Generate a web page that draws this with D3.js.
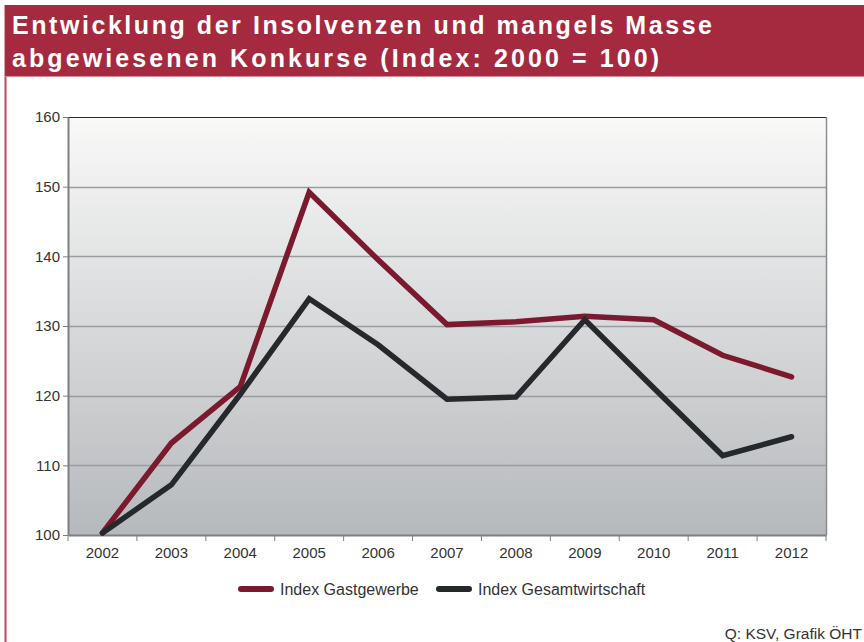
<html>
<head>
  <meta charset="utf-8">
  <title>Insolvenzen Index</title>
  <style>
    body {
      margin: 0;
      padding: 0;
      background: white;
      font-family: "Liberation Sans", Arial, sans-serif;
    }
  </style>
</head>
<body>
  <div id="chart"></div>
  <script src="https://cdnjs.cloudflare.com/ajax/libs/d3/7.8.5/d3.min.js"></script>
  <script>
    // data
    var years = ["2002", "2003", "2004", "2005", "2006", "2007", "2008", "2009", "2010", "2011", "2012"];
    var gastgewerbe = [100.3, 113.2, 121.3, 149.2, 139.5, 130.2, 130.6, 131.4, 130.9, 125.8, 122.7];
    var gesamtwirtschaft = [100.3, 107.2, 120.2, 133.9, 127.3, 119.5, 119.8, 130.9, 121.1, 111.4, 114.1];
    var yTicks = [100, 110, 120, 130, 140, 150, 160];
    var seriesNames = ["Index Gastgewerbe", "Index Gesamtwirtschaft"];
    var seriesColors = ["#7b1a2e", "#25292c"];

    var width = 864, height = 642;
    var margin = { left: 68, right: 826, top: 117, bottom: 535 };

    var svg = d3.select("#chart").append("svg")
      .attr("width", width)
      .attr("height", height);

    var defs = svg.append("defs");
    var grad = defs.append("linearGradient")
      .attr("id", "bg").attr("x1", 0).attr("y1", 0).attr("x2", 0).attr("y2", 1);
    grad.append("stop").attr("offset", "0%").attr("stop-color", "#f9f9f8");
    grad.append("stop").attr("offset", "100%").attr("stop-color", "#b6b9bc");

    // frame + title band
    svg.append("rect").attr("x", 0).attr("y", 0).attr("width", width).attr("height", height).attr("fill", "white");
    svg.append("line").attr("x1", 5.5).attr("x2", 5.5).attr("y1", 5).attr("y2", height)
      .attr("stroke", "#c0465a").attr("stroke-width", 2);
    svg.append("rect").attr("x", 5).attr("y", 5).attr("width", width - 5).attr("height", 71)
      .attr("fill", "#a52a3f");
    svg.append("line").attr("x1", 5).attr("x2", width).attr("y1", 76.5).attr("y2", 76.5)
      .attr("stroke", "#d98a96").attr("stroke-width", 1);

    // title, stretched to the width it has in the picture
    var title = svg.append("g")
      .attr("fill", "white")
      .attr("font-weight", "bold")
      .attr("font-size", 25);
    title.append("text").attr("x", 12).attr("y", 34)
      .attr("textLength", 700).attr("lengthAdjust", "spacing")
      .text("Entwicklung der Insolvenzen und mangels Masse");
    title.append("text").attr("x", 12).attr("y", 67)
      .attr("textLength", 647).attr("lengthAdjust", "spacing")
      .text("abgewiesenen Konkurse (Index: 2000 = 100)");

    var x = d3.scaleBand().domain(years).range([margin.left, margin.right]);
    var y = d3.scaleLinear().domain([100, 160]).range([margin.bottom, margin.top]);

    // plot background
    svg.append("rect")
      .attr("x", margin.left).attr("y", margin.top)
      .attr("width", margin.right - margin.left).attr("height", margin.bottom - margin.top)
      .attr("fill", "url(#bg)");

    // gridlines
    svg.append("g").selectAll("line")
      .data(yTicks.slice(1, -1))
      .enter().append("line")
      .attr("x1", margin.left).attr("x2", margin.right)
      .attr("y1", function(d) { return Math.round(y(d)) + 0.5; })
      .attr("y2", function(d) { return Math.round(y(d)) + 0.5; })
      .attr("stroke", "#9a9c9f").attr("stroke-width", 1.5);

    // top and right border
    svg.append("line").attr("x1", margin.left).attr("x2", margin.right)
      .attr("y1", margin.top + 0.5).attr("y2", margin.top + 0.5)
      .attr("stroke", "#2a2a2a").attr("stroke-width", 1.2);
    svg.append("line").attr("x1", margin.right + 0.5).attr("x2", margin.right + 0.5)
      .attr("y1", margin.top).attr("y2", margin.bottom)
      .attr("stroke", "#8a8c8e").attr("stroke-width", 1.5);

    // y axis
    var yAxis = svg.append("g")
      .attr("transform", "translate(" + margin.left + ",0)")
      .call(d3.axisLeft(y).tickValues(yTicks).tickSize(5).tickSizeOuter(0).tickPadding(3));
    yAxis.select(".domain").attr("stroke", "#7d7f82").attr("stroke-width", 2);
    yAxis.selectAll(".tick line").attr("stroke", "#7d7f82");
    yAxis.selectAll("text").attr("font-size", 15).attr("fill", "#333")
      .attr("font-family", "Liberation Sans, Arial, sans-serif");

    // x axis
    var xAxis = svg.append("g")
      .attr("transform", "translate(0," + margin.bottom + ")")
      .call(d3.axisBottom(x).tickSize(0).tickPadding(12));
    xAxis.select(".domain").attr("stroke", "#7d7f82").attr("stroke-width", 2);
    xAxis.selectAll("text").attr("font-size", 15).attr("fill", "#333")
      .attr("font-family", "Liberation Sans, Arial, sans-serif");
    // tick marks between categories
    svg.append("g").selectAll("line")
      .data(years.concat(["end"]))
      .enter().append("line")
      .attr("x1", function(d, i) { return margin.left + i * x.step(); })
      .attr("x2", function(d, i) { return margin.left + i * x.step(); })
      .attr("y1", margin.bottom).attr("y2", margin.bottom + 6)
      .attr("stroke", "#7d7f82").attr("stroke-width", 1);

    // lines
    var line = d3.line()
      .x(function(d, i) { return x(years[i]) + x.bandwidth() / 2; })
      .y(function(d) { return y(d); });

    [gastgewerbe, gesamtwirtschaft].forEach(function(s, i) {
      svg.append("path")
        .datum(s)
        .attr("d", line)
        .attr("fill", "none")
        .attr("stroke", seriesColors[i])
        .attr("stroke-width", 5.5)
        .attr("stroke-linejoin", "miter")
        .attr("stroke-linecap", "round");
    });

    // legend
    var legendX = [241, 439];
    var legend = svg.append("g");
    seriesNames.forEach(function(n, i) {
      legend.append("line")
        .attr("x1", legendX[i]).attr("x2", legendX[i] + 30)
        .attr("y1", 589).attr("y2", 589)
        .attr("stroke", seriesColors[i]).attr("stroke-width", 6)
        .attr("stroke-linecap", "round");
      legend.append("text")
        .attr("x", legendX[i] + 39).attr("y", 594.5)
        .attr("font-size", 16).attr("fill", "#333")
        .text(n);
    });

    // source
    svg.append("text")
      .attr("x", 862).attr("y", 639)
      .attr("text-anchor", "end")
      .attr("font-size", 15.5).attr("fill", "#333")
      .text("Q: KSV, Grafik ÖHT");
  </script>
</body>
</html>
